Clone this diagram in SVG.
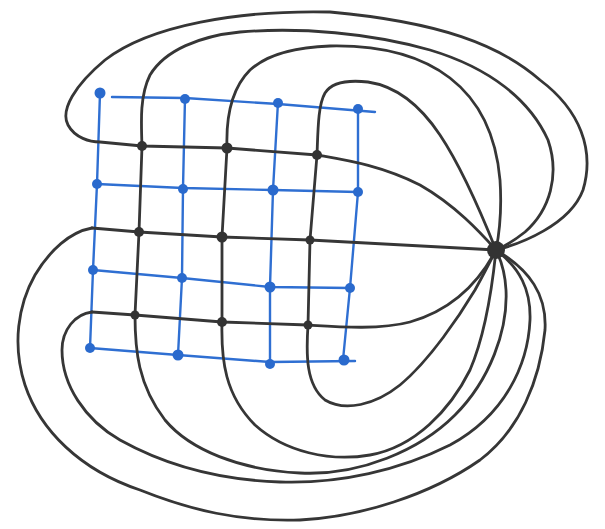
<svg xmlns="http://www.w3.org/2000/svg" width="605" height="529" viewBox="0 0 605 529">
<style>
.f{fill:none;stroke:#363636;stroke-width:2.8;stroke-linecap:round;stroke-linejoin:round}
.b{fill:none;stroke:#2f6fd2;stroke-width:2.4;stroke-linecap:round;stroke-linejoin:round}
.bd{fill:#2a6acd}
.kd{fill:#333}
</style>
<rect width="605" height="529" fill="#fff"/>
<g id="blue-grid">
<path class="b" d="M100,93 L97,184 L93,270 L90,348"/>
<path class="b" d="M185,98 L183,188 L182,278 L178,355"/>
<path class="b" d="M278,102 L273,190 L270,287 L270,362"/>
<path class="b" d="M358,108 L358,192 L350,288 L343,360"/>
<path class="b" d="M112,97 L185,98 L278,104 L375,112"/>
<path class="b" d="M97,184 L183,188 L273,190 L358,192"/>
<path class="b" d="M93,270 L182,278 L270,287 L350,288"/>
<path class="b" d="M90,348 L178,355 L270,362 L355,361"/>
<g class="bd">
<circle cx="100" cy="93" r="5.5"/><circle cx="185" cy="99" r="5"/><circle cx="278" cy="103" r="5"/><circle cx="358" cy="109" r="5"/>
<circle cx="97" cy="184" r="5"/><circle cx="183" cy="189" r="5"/><circle cx="273" cy="190" r="5.5"/><circle cx="358" cy="192" r="5"/>
<circle cx="93" cy="270" r="5"/><circle cx="182" cy="278" r="5"/><circle cx="270" cy="287" r="5.5"/><circle cx="350" cy="288" r="5"/>
<circle cx="90" cy="348" r="5"/><circle cx="178" cy="355" r="5.5"/><circle cx="270" cy="364" r="5"/><circle cx="344" cy="360" r="5.5"/>
</g>
</g>
<g id="field-lines">
<path class="f" d="M496,250 C520,244 570,225 583,190 C595,150 580,110 540,80 C500,45 440,22 330,12 C240,10 150,25 105,60 C75,85 60,110 68,125 C75,138 90,142 100,142 L142,146 L227,148 L317,155 C345,160 380,165 420,185 C455,205 480,232 496,250"/>
<path class="f" d="M142,146 C141,120 140,95 150,75 C165,50 200,36 240,32 C300,27 370,33 430,50 C490,68 530,100 548,140 C560,175 550,210 525,232 C515,240 505,246 496,250"/>
<path class="f" d="M227,148 C226,120 230,90 250,70 C270,52 300,47 330,46 C380,45 420,55 450,78 C485,105 497,145 500,180 C502,210 499,235 496,250"/>
<path class="f" d="M317,155 C318,130 318,105 325,93 C332,82 350,80 368,82 C395,86 420,105 440,135 C460,165 480,210 496,250"/>
<path class="f" d="M142,146 L139,232 L135,315"/>
<path class="f" d="M227,148 L222,237 L222,322"/>
<path class="f" d="M317,155 L310,240 L308,325"/>
<path class="f" d="M92,228 L139,232 L222,237 L310,240 L496,250"/>
<path class="f" d="M92,228 C70,232 50,250 35,275 C18,305 12,345 25,385 C40,430 80,470 140,490 C190,510 240,522 300,520 C360,517 430,495 480,460 C520,430 540,380 545,330 C547,295 530,270 496,250"/>
<path class="f" d="M92,312 L135,315 L222,322 L308,325 C340,327 380,330 410,322 C445,312 475,290 496,250"/>
<path class="f" d="M92,312 C75,314 62,330 62,350 C62,385 85,420 120,440 C165,465 220,480 280,482 C340,484 400,470 450,445 C505,415 528,365 530,320 C531,290 520,268 496,250"/>
<path class="f" d="M135,315 C135,350 138,385 165,420 C190,450 240,470 300,473 C360,476 420,450 455,415 C490,380 508,330 506,290 C505,270 500,258 496,250"/>
<path class="f" d="M222,322 C221,360 225,395 255,425 C285,452 330,462 370,455 C415,447 450,410 470,370 C485,335 492,290 496,250"/>
<path class="f" d="M308,325 C306,355 306,385 325,400 C345,412 375,405 400,385 C430,360 460,315 475,290 C485,272 492,258 496,250"/>
</g>
<g id="intersections" class="kd">
<circle cx="142" cy="146" r="5"/><circle cx="227" cy="148" r="5.5"/><circle cx="317" cy="155" r="5"/>
<circle cx="139" cy="232" r="5"/><circle cx="222" cy="237" r="5.5"/><circle cx="310" cy="240" r="4.5"/>
<circle cx="135" cy="315" r="4.5"/><circle cx="222" cy="322" r="5"/><circle cx="308" cy="325" r="4.5"/>
</g>
<g id="charge">
<circle class="kd" cx="496" cy="250" r="9"/>
</g>
</svg>
